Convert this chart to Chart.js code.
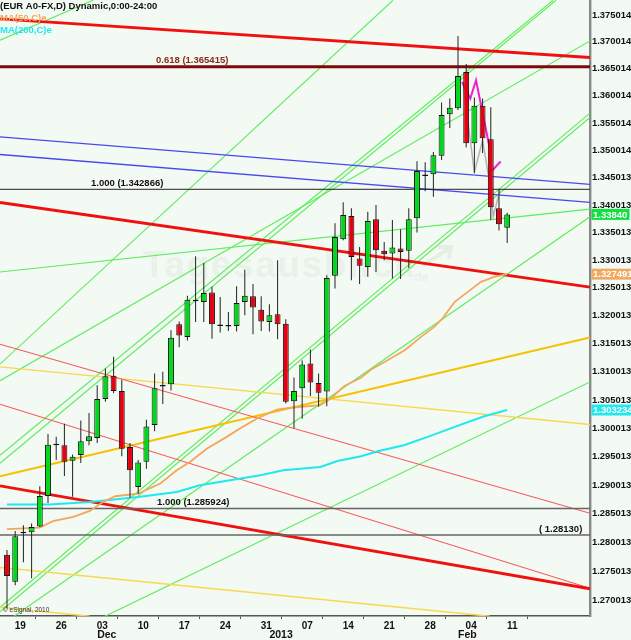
<!DOCTYPE html>
<html lang="en">
<head>
  <meta charset="UTF-8" />
  <title>EUR A0-FX Daily</title>
  <script src="https://cdn.jsdelivr.net/npm/chart.js"></script>
  <style>
    html, body { margin: 0; padding: 0; background: #f3f9f3; }
    canvas { display: block; }
  </style>
</head>
<body>
  <canvas id="fxChart" width="631" height="640"></canvas>

  <script>
    // Candles, one per bar, first bar is 16 Nov
    const opens = [1.2779,1.2732,1.2816,1.2818,1.2828,1.2881,1.2970,1.2970,1.2943,1.2953,1.2977,1.2983,1.3052,1.3093,1.3066,1.2967,1.2897,1.2941,1.3006,1.3074,1.3078,1.3185,1.3162,1.3226,1.3225,1.3242,1.3182,1.3181,1.3182,1.3225,1.3235,1.3211,1.3189,1.3203,1.3186,1.3048,1.3071,1.3115,1.3080,1.3065,1.3272,1.3338,1.3380,1.3303,1.3288,1.3374,1.3317,1.3312,1.3321,1.3317,1.3376,1.3453,1.3456,1.3490,1.3566,1.3577,1.3644,1.3513,1.3582,1.3520,1.3394,1.3359];
    const closes = [1.2742,1.2811,1.2816,1.2827,1.2881,1.2971,1.2970,1.2941,1.2950,1.2977,1.2986,1.3052,1.3092,1.3066,1.2964,1.2926,1.2940,1.3003,1.3071,1.3074,1.3161,1.3165,1.3229,1.3226,1.3241,1.3185,1.3182,1.3181,1.3223,1.3236,1.3215,1.3190,1.3201,1.3185,1.3047,1.3066,1.3113,1.3081,1.3063,1.3268,1.3342,1.3382,1.3306,1.3290,1.3371,1.3318,1.3311,1.3323,1.3315,1.3374,1.3462,1.3453,1.3491,1.3565,1.3578,1.3637,1.3513,1.3582,1.3522,1.3396,1.3365,1.3383];
    const highs = [1.2787,1.2820,1.2830,1.2833,1.2898,1.2990,1.2985,1.3008,1.2954,1.3014,1.3027,1.3076,1.3106,1.3127,1.3086,1.2974,1.2944,1.3015,1.3097,1.3100,1.3174,1.3190,1.3236,1.3307,1.3295,1.3252,1.3234,1.3207,1.3253,1.3283,1.3257,1.3235,1.3221,1.3300,1.3194,1.3090,1.3120,1.3140,1.3097,1.3273,1.3367,1.3405,1.3394,1.3324,1.3388,1.3400,1.3333,1.3373,1.3356,1.3394,1.3480,1.3478,1.3497,1.3588,1.3595,1.3711,1.3659,1.3597,1.3595,1.3579,1.3429,1.3386];
    const lows = [1.2686,1.2726,1.2766,1.2738,1.2827,1.2869,1.2944,1.2916,1.2880,1.2939,1.2970,1.2974,1.3047,1.3062,1.2951,1.2878,1.2885,1.2929,1.2995,1.3043,1.3067,1.3144,1.3156,1.3189,1.3189,1.3159,1.3170,1.3173,1.3172,1.3201,1.3167,1.3173,1.3172,1.3158,1.3044,1.3000,1.3017,1.3057,1.3038,1.3039,1.3249,1.3336,1.3264,1.3257,1.3270,1.3279,1.3300,1.3267,1.3266,1.3286,1.3350,1.3425,1.3415,1.3482,1.3541,1.3574,1.3505,1.3459,1.3495,1.3373,1.3354,1.3331];

    // Moving averages, readings at bar positions
    const ma50Bars = [0,4,5.6,8.1,10.1,11.7,13.2,16,18.7,20.7,22.3,24.4,26.8,28.4,30.5,32.9,34.9,38.2,39.5,41.1,43.2,44.4,46.4,48.5,50.5,52.1,53.1,54.6,56.2,57.8,59.4,61];
    const ma50Vals = [1.28233,1.28261,1.28371,1.28446,1.28551,1.28707,1.28807,1.28854,1.29029,1.29262,1.29408,1.29643,1.29849,1.29996,1.30173,1.30332,1.30368,1.30408,1.30527,1.30745,1.30900,1.31042,1.31208,1.31386,1.31623,1.31802,1.31952,1.32250,1.32430,1.32610,1.32700,1.32749];
    const ma200Bars = [0,5.2,10.1,16,20.7,23.5,27.2,30.9,33.7,38.2,40.3,43.2,45.2,48.4,51.3,54.6,58.2,61];
    const ma200Vals = [1.28662,1.28662,1.28707,1.28795,1.28882,1.28999,1.29087,1.29175,1.29262,1.29320,1.29425,1.29507,1.29595,1.29701,1.29849,1.30025,1.30214,1.30323];

    // Swing zigzags
    const pinkBars = [55.5,56.5,57.2,59];
    const pinkVals = [1.3626,1.3595,1.3629,1.3494];
    const pinkTailBars = [59.2,60.2];
    const pinkTailVals = [1.34635,1.34795];
    const greyBars = [55.6,57,58,59,59.3,60.1];
    const greyVals = [1.36253,1.34599,1.35186,1.34271,1.33786,1.34271];

    // Axis range, in bars and in price
    const barMin = -0.854, barMax = 71.1;
    const priceMin = 1.2673, priceMax = 1.37782;

    // Fibonacci / horizontal levels
    const fibHigh = 1.365415, fibMid = 1.342866, fibLow = 1.285924, fibBase = 1.2813;

    // Trend lines: [bar, price, bar, price]
    const redThick = [[barMin,1.3743,barMax,1.36711],[barMin,1.34047,barMax,1.32514],[barMin,1.28987,barMax,1.27199]];
    const redThin = [[barMin,1.31493,barMax,1.2851],[barMin,1.30426,barMax,1.27208]];
    const blueLines = [[barMin,1.35246,barMax,1.34376],[barMin,1.34923,barMax,1.34047]];
    const yellowLines = [[barMin,1.31089,barMax,1.30067],[barMin,1.27566,58.9,1.26725],[barMin,1.2688,10.1,1.26725]];
    const goldLines = [[barMin,1.29157,barMax,1.31612]];
    const greenLines = [
      [barMin,1.37032,10.5,1.37777],
      [barMin,1.31137,47.07,1.37777],
      [barMin,1.30843,barMax,1.37019],
      [barMin,1.29526,66.6,1.37777],
      [barMin,1.29385,66.95,1.37777],
      [barMin,1.2688,barMax,1.35682],
      [barMin,1.26802,barMax,1.35603],
      [0.85,1.26725,barMax,1.33786],
      [11.95,1.26725,barMax,1.30822],
      [barMin,1.32789,barMax,1.33926]
    ];

    // Axis ticks
    const yTickLabels = ['1.375014','1.370014','1.365014','1.360014','1.355014','1.350014','1.345013','1.340013','1.335013','1.330013','1.325013','1.320013','1.315013','1.310013','1.305013','1.300013','1.295013','1.290013','1.285013','1.280013','1.275013','1.270013'];
    const xTickBars = [1,6,11,16,21,26,31,36,41,46,51,56,61];
    const xTickLabels = ['19','26','03','10','17','24','31','07','14','21','28','04','11'];
    const monthBars = [11,32,55];
    const monthLabels = ['Dec','2013','Feb'];

    // Colours
    const upColor = '#00d81c', downColor = '#e80012';

    function barIdx(arr) { return arr.map((_, i) => i); }

    function pairs(bars, vals) { return bars.map((b, i) => ({ x: b, y: vals[i] })); }

    function lineDs(pts, color, width, order) {
      return { type: 'line', data: pts, borderColor: color, borderWidth: width, pointRadius: 0, tension: 0, order: order };
    }

    function trendDs(list, color, width, order) {
      return list.map(l => lineDs([{ x: l[0], y: l[1] }, { x: l[2], y: l[3] }], color, width, order));
    }

    function levelDs(value, color, width) {
      return lineDs([{ x: barMin, y: value }, { x: barMax, y: value }], color, width, 3);
    }

    const bars = barIdx(opens);

    const datasets = [
      // bodies
      {
        data: bars.map(i => ({ x: i, y: [opens[i], closes[i]] })),
        backgroundColor: bars.map(i => opens[i] === closes[i] ? '#000' : (closes[i] > opens[i] ? upColor : downColor)),
        borderColor: '#111',
        borderWidth: 1,
        borderSkipped: false,
        grouped: false,
        maxBarThickness: 6,
        minBarLength: 1.5,
        order: 0
      },
      // wicks
      {
        data: bars.map(i => ({ x: i, y: [lows[i], highs[i]] })),
        backgroundColor: '#222',
        borderWidth: 0,
        grouped: false,
        maxBarThickness: 1,
        order: 1
      },
      lineDs(pairs(pinkBars, pinkVals), '#f020d0', 2, 2),
      lineDs(pairs(pinkTailBars, pinkTailVals), '#f020d0', 2, 2),
      lineDs(pairs(greyBars, greyVals), '#b4b4b4', 1.5, 2),
      lineDs(pairs(ma50Bars, ma50Vals), '#f4a65c', 1.8, 3),
      lineDs(pairs(ma200Bars, ma200Vals), '#20e8f0', 2, 3),
      levelDs(fibHigh, '#7c0a0a', 3),
      levelDs(fibMid, '#222', 1),
      levelDs(fibLow, '#666', 1.5),
      levelDs(fibBase, '#666', 1.5),
      ...trendDs(redThick, '#f01010', 2.8, 4),
      ...trendDs(redThin, '#f85858', 1.1, 5),
      ...trendDs(blueLines, '#4848f0', 1.3, 5),
      ...trendDs(yellowLines, '#f8d850', 1.4, 5),
      ...trendDs(goldLines, '#f8c000', 2, 5),
      ...trendDs(greenLines, '#5cec5c', 1.1, 6)
    ];

    // Watermark under the marks
    const watermark = {
      id: 'watermark',
      beforeDatasetsDraw(chart) {
        const ctx = chart.ctx;
        ctx.save();
        ctx.fillStyle = '#e9f1e9';
        ctx.strokeStyle = '#e4f0e4';
        ctx.font = 'bold 37px "Liberation Sans", Arial, sans-serif';
        ctx.letterSpacing = '1.6px';
        ctx.textBaseline = 'alphabetic';
        ctx.fillText('Tagesausblick', 143, 277);
        ctx.letterSpacing = '0px';
        ctx.font = 'bold 12px "Liberation Sans", Arial, sans-serif';
        ctx.fillText('.de', 411, 281);
        // small arrow after the name
        ctx.lineWidth = 4;
        ctx.beginPath();
        ctx.moveTo(422, 266);
        ctx.lineTo(450, 248);
        ctx.moveTo(438, 247);
        ctx.lineTo(451, 247);
        ctx.lineTo(449, 259);
        ctx.stroke();
        ctx.restore();
      }
    };

    // Text on top of the chart: header, level captions, price tags
    const captions = {
      id: 'captions',
      afterDraw(chart) {
        const ctx = chart.ctx;
        const y = chart.scales.y, x = chart.scales.x;
        const font = 'bold 9.5px "Liberation Sans", Arial, sans-serif';
        ctx.save();
        ctx.textBaseline = 'middle';
        ctx.textAlign = 'left';

        ctx.font = font;
        ctx.fillStyle = '#111';
        ctx.fillText('(EUR A0-FX,D) Dynamic,0:00-24:00', 0, 6);
        ctx.fillStyle = '#f4a65c';
        ctx.fillText('MA(50,C)e', 0, 18);
        ctx.fillStyle = '#20e8f0';
        ctx.fillText('MA(200,C)e', 0, 30);

        ctx.fillStyle = '#8a2a18';
        ctx.fillText('0.618 (1.365415)', 156, y.getPixelForValue(fibHigh) - 6);
        ctx.fillStyle = '#111';
        ctx.fillText('1.000 (1.342866)', 91, y.getPixelForValue(fibMid) - 6);
        ctx.fillText('1.000 (1.285924)', 157, y.getPixelForValue(fibLow) - 6);
        ctx.fillText('( 1.28130)', 539, y.getPixelForValue(fibBase) - 6);

        // last value tags
        const tag = (value, text, color, w) => {
          const py = y.getPixelForValue(value);
          ctx.fillStyle = color;
          ctx.fillRect(591.5, py - 5.5, w, 11);
          ctx.fillStyle = '#fff';
          ctx.fillText(text, 593, py + 0.5);
        };
        tag(closes[closes.length - 1], '1.33840', '#10e040', 38);
        tag(1.327491, '1.327491', '#f0aa60', 40);
        tag(1.303234, '1.303234', '#20e8f0', 40);

        ctx.font = '6.5px "Liberation Sans", Arial, sans-serif';
        ctx.fillStyle = '#333';
        ctx.fillText('© eSignal, 2010', 3, 610);

        // month row under the day ticks
        ctx.font = 'bold 10.5px "Liberation Sans", Arial, sans-serif';
        ctx.fillStyle = '#111';
        monthLabels.forEach((m, i) => ctx.fillText(m, x.getPixelForValue(monthBars[i]), 635));
        ctx.restore();
      }
    };

    new Chart(document.getElementById('fxChart').getContext('2d'), {
      type: 'bar',
      data: { datasets: datasets },
      plugins: [watermark, captions],
      options: {
        responsive: false,
        animation: false,
        layout: { padding: 0 },
        plugins: { legend: { display: false }, tooltip: { enabled: false } },
        scales: {
          x: {
            type: 'linear',
            min: barMin,
            max: barMax,
            offset: false,
            afterFit(s) { s.height = 24; s.paddingLeft = 0; s.paddingRight = 0; },
            afterBuildTicks(s) { s.ticks = xTickBars.map(v => ({ value: v })); },
            border: { color: '#555', width: 1.5 },
            grid: { drawOnChartArea: false, color: '#555', tickLength: 3 },
            ticks: {
              autoSkip: false,
              maxRotation: 0,
              labelOffset: 5,
              padding: 1,
              color: '#111',
              font: { family: '"Liberation Sans", Arial, sans-serif', size: 10, weight: 'bold' },
              callback: (v, i) => xTickLabels[i]
            }
          },
          y: {
            type: 'logarithmic',
            position: 'right',
            min: priceMin,
            max: priceMax,
            afterFit(s) { s.width = 41; s.paddingTop = 0; s.paddingBottom = 0; },
            afterBuildTicks(s) { s.ticks = yTickLabels.map(t => ({ value: parseFloat(t) })); },
            border: { color: '#888', width: 2.4 },
            grid: { drawOnChartArea: false, drawTicks: false },
            ticks: {
              autoSkip: false,
              padding: 2,
              color: '#111',
              font: { family: '"Liberation Sans", Arial, sans-serif', size: 9.4, weight: 'bold' },
              callback: (v, i) => yTickLabels[i]
            }
          }
        }
      }
    });
  </script>
</body>
</html>
